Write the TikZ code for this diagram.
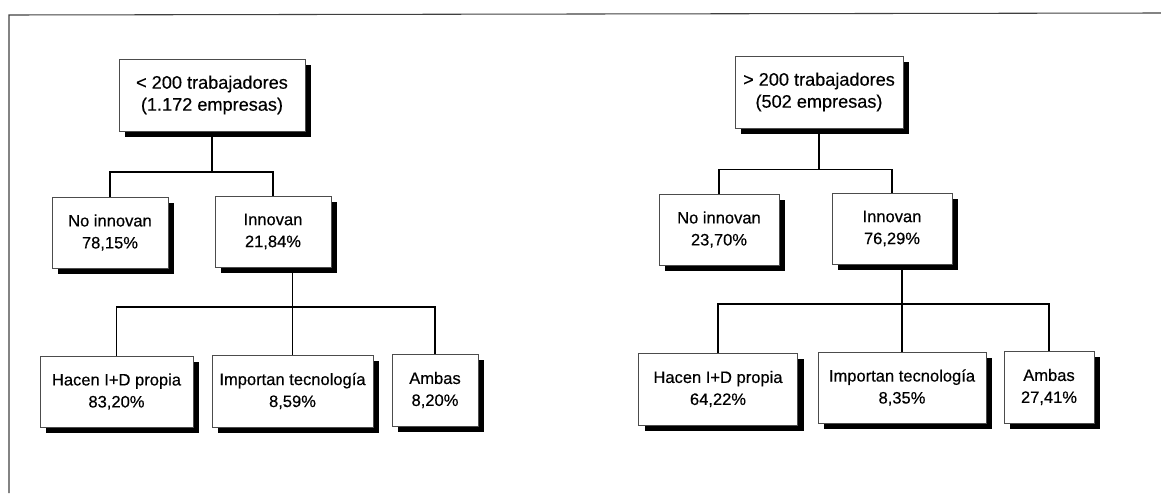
\documentclass[tikz,border=0pt]{standalone}
\usepackage{fontspec}
\setmainfont{Liberation Sans}[FakeBold=0.4]
\usetikzlibrary{shadows,backgrounds}
\begin{document}
\begin{tikzpicture}[x=0.75pt,y=-0.75pt,
  box/.style={draw=black!70,line width=0.5pt,fill=white,inner sep=0pt,align=center,
    font=\fontsize{12.4}{16.5}\selectfont,
    general shadow={fill=black,shadow xshift=4.5pt,shadow yshift=-4.5pt}},
  rootbox/.style={box,font=\fontsize{13.6}{16.5}\selectfont},
  conn/.style={line width=1.4pt,black},
  frame/.style={line width=0.8pt,black!75}]
\useasboundingbox (0,0) rectangle (1161,493);
\coordinate (f1) at (9,493);
\coordinate (f2) at (9,15);
\coordinate (f3) at (1161,13);
\draw[frame] (f1) -- (f2) -- (f3);
% left tree
\node[rootbox,minimum width=139.5pt,minimum height=54pt] (Lroot) at (212,95) {< 200 trabajadores\\(1.172 empresas)};
\node[box,minimum width=87pt,minimum height=53.25pt] (Lno) at (110,232.5) {No innovan\\78,15\%};
\node[box,minimum width=87pt,minimum height=53.25pt] (Linn) at (273,231.5) {Innovan\\21,84\%};
\node[box,minimum width=114.75pt,minimum height=53.25pt] (Lhac) at (116.5,391.5) {Hacen I+D propia\\83,20\%};
\node[box,minimum width=120.75pt,minimum height=54pt] (Limp) at (292.5,391) {Importan tecnología\\8,59\%};
\node[box,minimum width=64.5pt,minimum height=54pt] (Lamb) at (435,390) {Ambas\\8,20\%};
% right tree
\node[rootbox,minimum width=126pt,minimum height=54pt] (Rroot) at (819,92) {> 200 trabajadores\\(502 empresas)};
\node[box,minimum width=90pt,minimum height=53.25pt] (Rno) at (719,229.5) {No innovan\\23,70\%};
\node[box,minimum width=90pt,minimum height=53.25pt] (Rinn) at (892,228.5) {Innovan\\76,29\%};
\node[box,minimum width=119.25pt,minimum height=54pt] (Rhac) at (718,389) {Hacen I+D propia\\64,22\%};
\node[box,minimum width=126pt,minimum height=53.25pt] (Rimp) at (902,387.5) {Importan tecnología\\8,35\%};
\node[box,minimum width=67.5pt,minimum height=54pt] (Ramb) at (1049,387) {Ambas\\27,41\%};
\coordinate (Lj1) at (212,172);
\coordinate (Lj2) at (292.5,307);
\coordinate (Rj1) at (819,169.5);
\coordinate (Rj2) at (902,304);
\begin{scope}[on background layer]
\draw[conn] (Lroot.south) -- (Lj1);
\draw[conn] (Lno.north) |- (Lj1) -| (Linn.north);
\draw[conn] (Linn.south -| Limp.north) -- (Limp.north);
\draw[conn] (Lhac.north) |- (Lj2) -| (Lamb.north);
\draw[conn] (Rroot.south) -- (Rj1);
\draw[conn] (Rno.north) |- (Rj1) -| (Rinn.north);
\draw[conn] (Rinn.south -| Rimp.north) -- (Rimp.north);
\draw[conn] (Rhac.north) |- (Rj2) -| (Ramb.north);
\end{scope}
\end{tikzpicture}
\end{document}
